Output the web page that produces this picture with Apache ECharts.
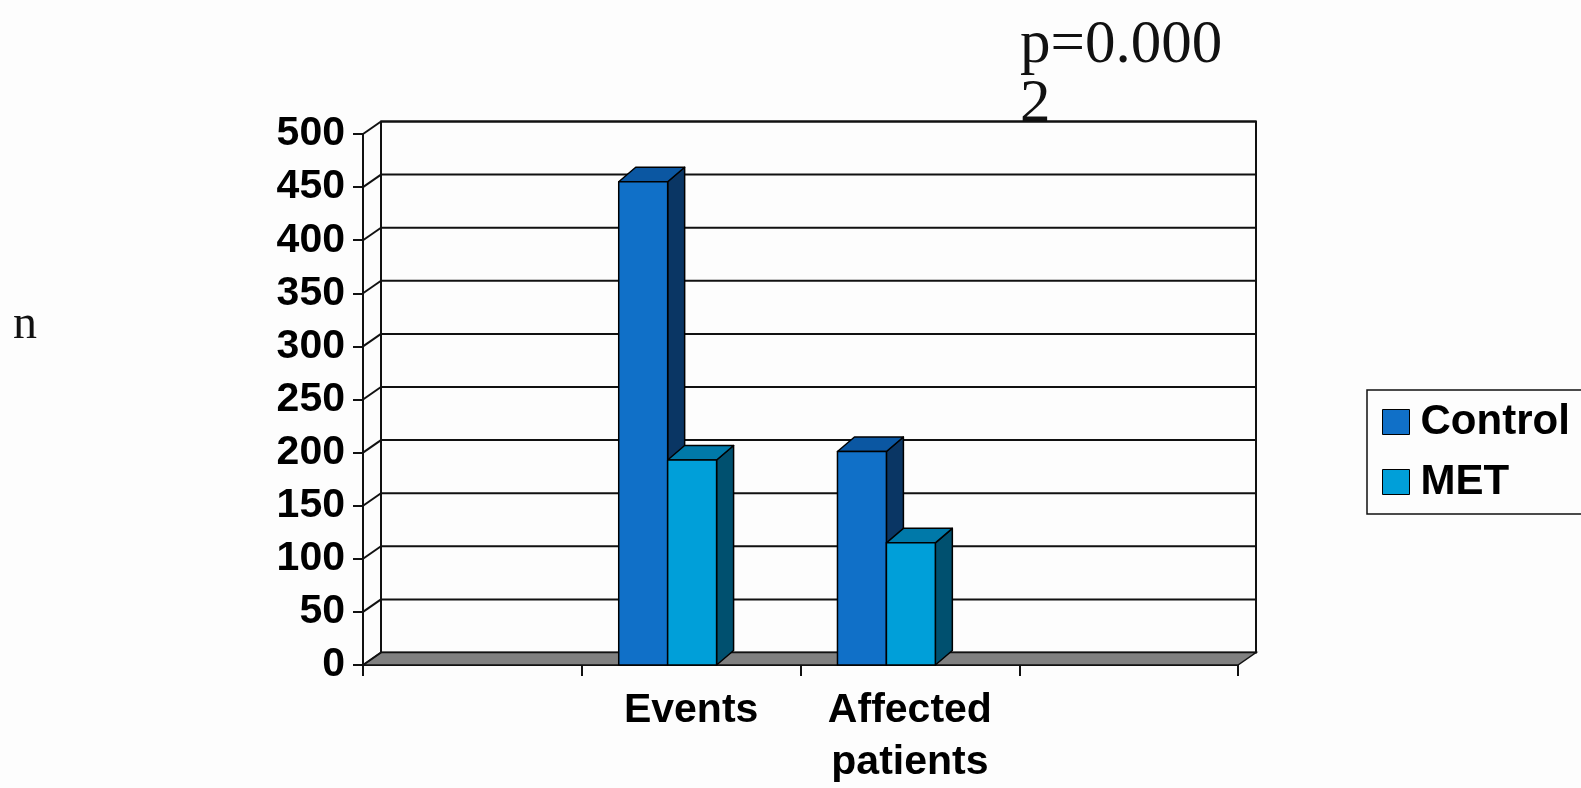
<!DOCTYPE html>
<html>
<head>
<meta charset="utf-8">
<script src="https://cdn.jsdelivr.net/npm/echarts@6/dist/echarts.min.js"></script>
<style>
  html, body { margin: 0; padding: 0; background: #fdfdfd; overflow: hidden; }
  #chart { width: 1581px; height: 788px; }
</style>
</head>
<body>
<div id="chart"></div>
<script>
// Categories on the horizontal axis (outer slots are empty)
const categories = ['', 'Events', 'Affected patients', ''];
// Series values per category (null = no bar)
const controlValues = [null, 455, 201, null];
const metValues = [null, 193, 115, null];
// Value axis ticks
const yTicks = [0, 50, 100, 150, 200, 250, 300, 350, 400, 450, 500];
const seriesNames = ['Control', 'MET'];

// 3D look: wall depth and bar depth in pixels
const WALL_DX = 18, WALL_DY = -12.5;
const BAR_DX = 17, BAR_DY = -14.5;
const BAR_W = 0.2237;      // bar width as a fraction of a category band
const GROUP_OFF = -0.331;  // left edge of the bar pair relative to band centre

const colors = {
  Control: { front: '#1070C8', top: '#0B57A2', side: '#0A3664' },
  MET:     { front: '#009FD9', top: '#0079A9', side: '#00506F' }
};

const chart = echarts.init(document.getElementById('chart'));

function toData(values) {
  const out = [];
  values.forEach((v, i) => { if (v !== null) out.push([i, v]); });
  return out;
}

// Back wall, floor, side wall connectors and gridlines
function renderFrame(params, api) {
  const cs = params.coordSys;
  const v = api.value(1);
  const yF = api.coord([0, v])[1];
  const gx = cs.x, gw = cs.width;
  const children = [];
  const line = (x1, y1, x2, y2) => ({
    type: 'line', shape: { x1, y1, x2, y2 },
    style: { stroke: '#111', lineWidth: 2 }
  });
  if (params.dataIndex === 0) {
    const yTop = cs.y;
    const yBot = cs.y + cs.height;
    // back wall outline
    children.push({
      type: 'rect',
      shape: { x: gx + WALL_DX, y: yTop + WALL_DY, width: gw, height: cs.height },
      style: { fill: 'rgba(0,0,0,0)', stroke: '#111', lineWidth: 2 }
    });
    // floor
    children.push({
      type: 'polygon',
      shape: { points: [[gx, yBot], [gx + WALL_DX, yBot + WALL_DY],
                        [gx + gw + WALL_DX, yBot + WALL_DY], [gx + gw, yBot]] },
      style: { fill: '#808080', stroke: '#111', lineWidth: 1.5 }
    });
  } else {
    children.push(line(gx + WALL_DX, yF + WALL_DY, gx + gw + WALL_DX, yF + WALL_DY));
  }
  children.push(line(gx, yF, gx + WALL_DX, yF + WALL_DY));
  return { type: 'group', children };
}

function makeBarRenderer(seriesIdx, c) {
  return function (params, api) {
    const cat = api.value(0);
    const val = api.value(1);
    const base = api.coord([cat, 0]);
    const top = api.coord([cat, val]);
    const band = api.size([1, 0])[0];
    const w = band * BAR_W;
    const x0 = base[0] + band * GROUP_OFF + seriesIdx * w;
    const x1 = x0 + w;
    const yT = top[1], yB = base[1];
    const stroke = { stroke: '#000', lineWidth: 1.5, lineJoin: 'round' };
    return {
      type: 'group',
      children: [
        { type: 'polygon',
          shape: { points: [[x1, yT], [x1 + BAR_DX, yT + BAR_DY], [x1 + BAR_DX, yB + BAR_DY], [x1, yB]] },
          style: Object.assign({ fill: c.side }, stroke) },
        { type: 'polygon',
          shape: { points: [[x0, yT], [x0 + BAR_DX, yT + BAR_DY], [x1 + BAR_DX, yT + BAR_DY], [x1, yT]] },
          style: Object.assign({ fill: c.top }, stroke) },
        { type: 'rect',
          shape: { x: x0, y: yT, width: w, height: yB - yT },
          style: Object.assign({ fill: c.front }, stroke) }
      ]
    };
  };
}

const option = {
  backgroundColor: '#fdfdfd',
  animation: false,
  grid: {
    left: 363, top: 134, width: 875, height: 531,
    containLabel: false, outerBoundsMode: 'none'
  },
  xAxis: {
    type: 'category',
    data: categories,
    boundaryGap: true,
    axisLine: { show: true, lineStyle: { color: '#111', width: 2 } },
    axisTick: { show: true, length: 11, lineStyle: { color: '#111', width: 2 } },
    axisLabel: {
      color: '#000', fontFamily: 'Liberation Sans', fontWeight: 'bold', fontSize: 41,
      lineHeight: 52, margin: 20, interval: 0,
      formatter: (s) => s.replace(' ', '\n')
    },
    splitLine: { show: false }
  },
  yAxis: {
    type: 'value',
    min: 0, max: 500, interval: 50,
    axisLine: { show: true, lineStyle: { color: '#111', width: 2 } },
    axisTick: { show: true, length: 10, lineStyle: { color: '#111', width: 2 } },
    axisLabel: {
      color: '#000', fontFamily: 'Liberation Sans', fontWeight: 'bold', fontSize: 41,
      margin: 18
    },
    splitLine: { show: false }
  },
  legend: {
    orient: 'vertical',
    left: 1367, top: 390,
    padding: [11, 0, 13, 15],
    itemWidth: 27, itemHeight: 25, itemGap: 18,
    borderWidth: 0,
    backgroundColor: 'transparent',
    data: seriesNames.map(n => ({
      name: n, icon: 'rect',
      itemStyle: { color: colors[n].front, borderColor: '#000', borderWidth: 1 }
    })),
    textStyle: {
      color: '#000', fontFamily: 'Liberation Sans', fontWeight: 'bold', fontSize: 42,
      lineHeight: 42, padding: [0, 0, 0, 6]
    }
  },
  graphic: [
    // legend frame: top, left and bottom edges; it runs on past the canvas edge
    { type: 'polyline', z: -1,
      shape: { points: [[1600, 390], [1367, 390], [1367, 514], [1600, 514]] },
      style: { fill: null, stroke: '#111', lineWidth: 1.5 } },
    { type: 'text', left: 13, top: 301,
      style: { text: 'n', font: '48px "Liberation Serif"', fill: '#111' } },
    { type: 'text', left: 1020, top: 15,
      style: { text: 'p=0.000', font: '61px "Liberation Serif"', fill: '#111' } },
    { type: 'text', left: 1020, top: 74,
      style: { text: '2', font: '61px "Liberation Serif"', fill: '#111' } }
  ],
  series: [
    {
      type: 'custom', name: 'frame', silent: true, clip: false, z: 1,
      data: yTicks.map(v => [0, v]),
      encode: { x: 0, y: 1 },
      renderItem: renderFrame
    },
    {
      type: 'custom', name: 'Control', clip: false, z: 3,
      itemStyle: { color: colors.Control.front },
      data: toData(controlValues),
      encode: { x: 0, y: 1 },
      renderItem: makeBarRenderer(0, colors.Control)
    },
    {
      type: 'custom', name: 'MET', clip: false, z: 4,
      itemStyle: { color: colors.MET.front },
      data: toData(metValues),
      encode: { x: 0, y: 1 },
      renderItem: makeBarRenderer(1, colors.MET)
    }
  ]
};

chart.setOption(option);
</script>
</body>
</html>
